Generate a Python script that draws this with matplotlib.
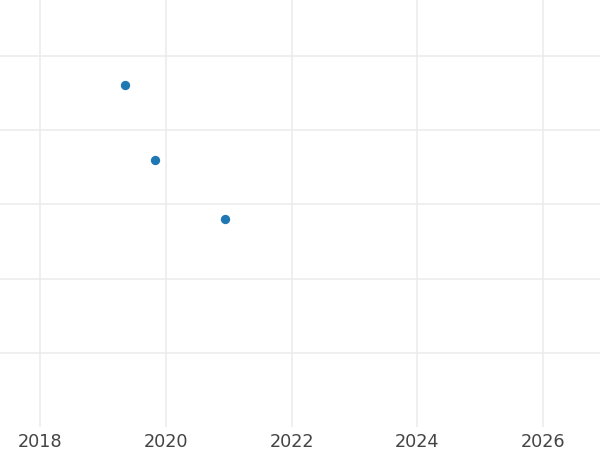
import pandas as pd
import matplotlib
matplotlib.use("Agg")
import matplotlib.pyplot as plt
import matplotlib.dates as mdates

# === Data ===
dates = ["2019-05-10", "2019-10-29", "2020-12-13"]
values = [4.61, 3.60, 2.80]
year_ticks = [2018, 2020, 2022, 2024, 2026]
y_ticks = [1, 2, 3, 4, 5]

x = pd.to_datetime(dates)

fig = plt.figure(figsize=(6, 4.5), dpi=100)
ax = fig.add_axes([0, 1 - 427 / 450, 1, 427 / 450])

ax.scatter(x, values, s=45, color="#1f77b4", zorder=3, linewidths=0)

ax.set_xlim(pd.Timestamp("2017-05-14"), pd.Timestamp("2026-11-27"))
ax.set_ylim(0, 5.754)

ax.set_xticks([pd.Timestamp(f"{y}-01-01") for y in year_ticks])
ax.xaxis.set_major_formatter(mdates.DateFormatter("%Y"))
ax.set_yticks(y_ticks)
ax.set_yticklabels([])

ax.grid(True, color="#ebebeb", linewidth=1.1)
ax.set_axisbelow(True)
ax.tick_params(axis="both", length=0)
ax.tick_params(axis="x", labelsize=12.7, labelcolor="#444444", pad=4)
for s in ax.spines.values():
    s.set_visible(False)

plt.savefig("out.png", dpi=100)
